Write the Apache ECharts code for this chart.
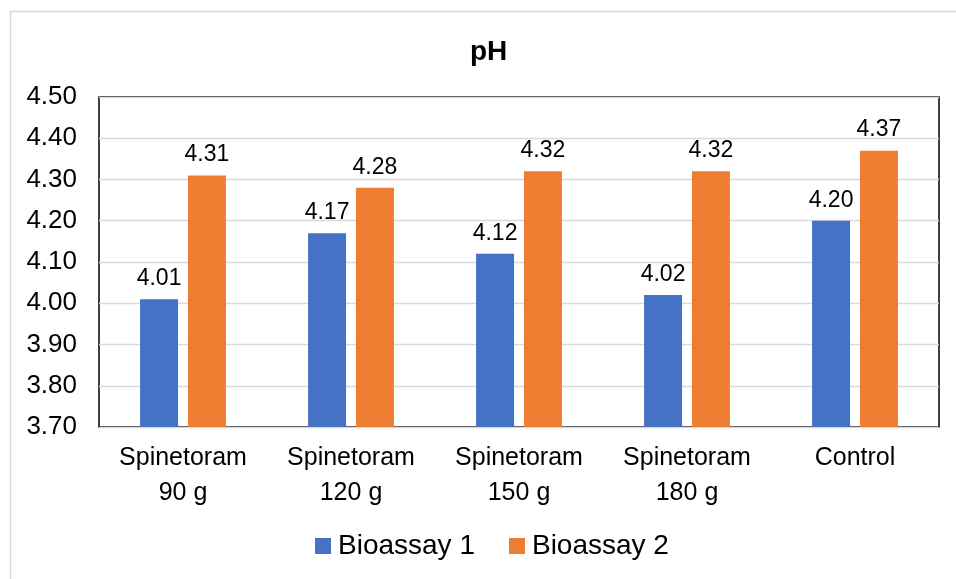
<!DOCTYPE html>
<html><head><meta charset="utf-8">
<script src="https://cdn.jsdelivr.net/npm/echarts@6/dist/echarts.min.js"></script>
<style>html,body{margin:0;padding:0;background:#fff}#c{width:956px;height:579px}</style>
</head><body><div id="c"></div>
<script>
const categories = ['Spinetoram\n90 g', 'Spinetoram\n120 g', 'Spinetoram\n150 g', 'Spinetoram\n180 g', 'Control'];
const bioassay1 = [4.01, 4.17, 4.12, 4.02, 4.20];
const bioassay2 = [4.31, 4.28, 4.32, 4.32, 4.37];
const yTicks = [3.7, 3.8, 3.9, 4.0, 4.1, 4.2, 4.3, 4.4, 4.5];

const font = 'Liberation Sans, Arial, sans-serif';
const chart = echarts.init(document.getElementById('c'));
const lbl = {show: true, position: 'top', distance: 9, color: '#000', fontSize: 23, fontFamily: font, formatter: p => p.value.toFixed(2)};
chart.setOption({
  animation: false,
  graphic: [{type: 'rect', left: 8, top: 9, shape: {width: 1000, height: 1000}, style: {fill: 'none', stroke: '#d9d9d9', lineWidth: 1.5}, silent: true}],
  title: {text: 'pH', left: 465, top: 33, textStyle: {fontFamily: font, fontSize: 28, fontWeight: 'bold', color: '#000'}},
  grid: {left: 99, right: 17, top: 97, bottom: 152, show: true, borderColor: '#000', borderWidth: 1.5, containLabel: false},
  legend: {left: 310, bottom: 14, itemWidth: 16, itemHeight: 16, itemGap: 34, icon: 'rect', textStyle: {fontFamily: font, fontSize: 28, color: '#000', padding: [0,0,0,2]}, data: ['Bioassay 1', 'Bioassay 2']},
  xAxis: {type: 'category', data: categories, axisLine: {show: false}, axisTick: {show: false},
    axisLabel: {color: '#000', fontFamily: font, fontSize: 25, lineHeight: 35, margin: 14}},
  yAxis: {type: 'value', min: yTicks[0], max: yTicks[yTicks.length-1], interval: 0.1,
    axisLine: {show: false}, axisTick: {show: false},
    splitLine: {lineStyle: {color: '#d9d9d9', width: 1.3}},
    axisLabel: {color: '#000', fontFamily: font, fontSize: 26, margin: 22, formatter: v => v.toFixed(2)}},
  series: [
    {name: 'Bioassay 1', type: 'bar', data: bioassay1, itemStyle: {color: '#4472c4'}, barWidth: 38, barGap: '26%', label: lbl},
    {name: 'Bioassay 2', type: 'bar', data: bioassay2, itemStyle: {color: '#ed7d31'}, barWidth: 38, barGap: '26%', label: lbl}
  ]
});
</script></body></html>
